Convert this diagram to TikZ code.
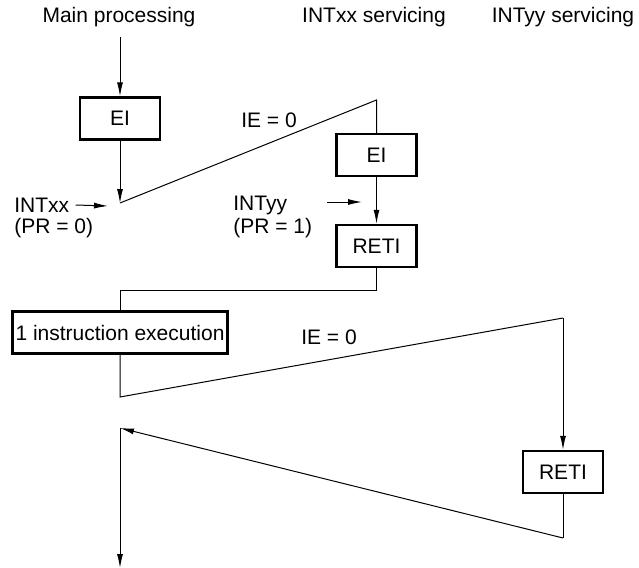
\documentclass[tikz,border=0pt]{standalone}
\usepackage{fontspec}
\setmainfont{Liberation Sans}
\usepackage{tikz}
\usetikzlibrary{positioning,arrows.meta}
\tikzset{
  flarr/.style={-{Latex[length=7pt,width=3pt]},line width=0.5pt},
  flline/.style={line width=0.5pt},
  stepbox/.style={draw=black,line width=1.2pt,align=center,minimum width=40pt,
                  minimum height=21pt,inner xsep=1.5pt,font=\fontsize{10.5}{12.6}\selectfont},
  lbl/.style={inner sep=1pt,align=left,font=\fontsize{10.5}{12.6}\selectfont}
}
\begin{document}
\begin{tikzpicture}[x=0.5pt,y=-0.5pt]
\useasboundingbox (0,0) rectangle (639,568);
\node[lbl] (main) at (119,17) {Main processing};
\node[lbl] (xxserv) at (374,17) {INTxx servicing};
\node[lbl] (yyserv) at (563,17) {INTyy servicing};

\node[stepbox] (ei1) at (120,118.5) {EI};
\node[stepbox] (ei2) at (376.5,155) {EI};
\node[stepbox] (reti1) at (376.5,246) {RETI};
\node[stepbox] (oneins) at (120,332.5) {1 instruction execution};
\node[stepbox] (reti2) at (563,472) {RETI};

\node[lbl,anchor=west] (intxx) at (12,205) {INTxx};
\node[lbl,anchor=west] (prxx) at (12,228) {(PR = 0)};
\node[lbl,anchor=west] (intyy) at (231,205) {INTyy};
\node[lbl,anchor=west] (pryy) at (231,228) {(PR = 1)};
\node[lbl] (ie1) at (269,120) {IE = 0};
\node[lbl] (ie2) at (329,337) {IE = 0};

\coordinate (top1) at (120,37);
\coordinate (int1) at (120,203);
\coordinate (peak1) at (376.5,100);
\coordinate (xxin) at (108,206);
\coordinate (yyfrom) at (327,202);
\coordinate (yyto) at (362,202);
\coordinate (ret1a) at (376.5,290);
\coordinate (ret1b) at (120,290);
\coordinate (low2) at (120,397);
\coordinate (peak2) at (563,318);
\coordinate (ret2a) at (563,538);
\coordinate (back) at (120,428);
\coordinate (endm) at (120,568);

\draw[flarr] (top1) -- (ei1.north);
\draw[flarr] (ei1.south) -- (int1);
\draw[flarr] ([xshift=2pt]intxx.east) -- (xxin);
\draw[flline] (int1) -- (peak1) -- (ei2.north);
\draw[flarr] (ei2.south) -- (reti1.north);
\draw[flarr] (yyfrom) -- (yyto);
\draw[flline] (reti1.south) -- (ret1a) -- (ret1b) -- (oneins.north);
\draw[flline] (oneins.south) -- (low2) -- (peak2);
\draw[flarr] (peak2) -- (reti2.north);
\draw[flline] (reti2.south) -- (ret2a);
\draw[flarr] (ret2a) -- (back);
\draw[flarr] (back) -- (endm);
\end{tikzpicture}
\end{document}
